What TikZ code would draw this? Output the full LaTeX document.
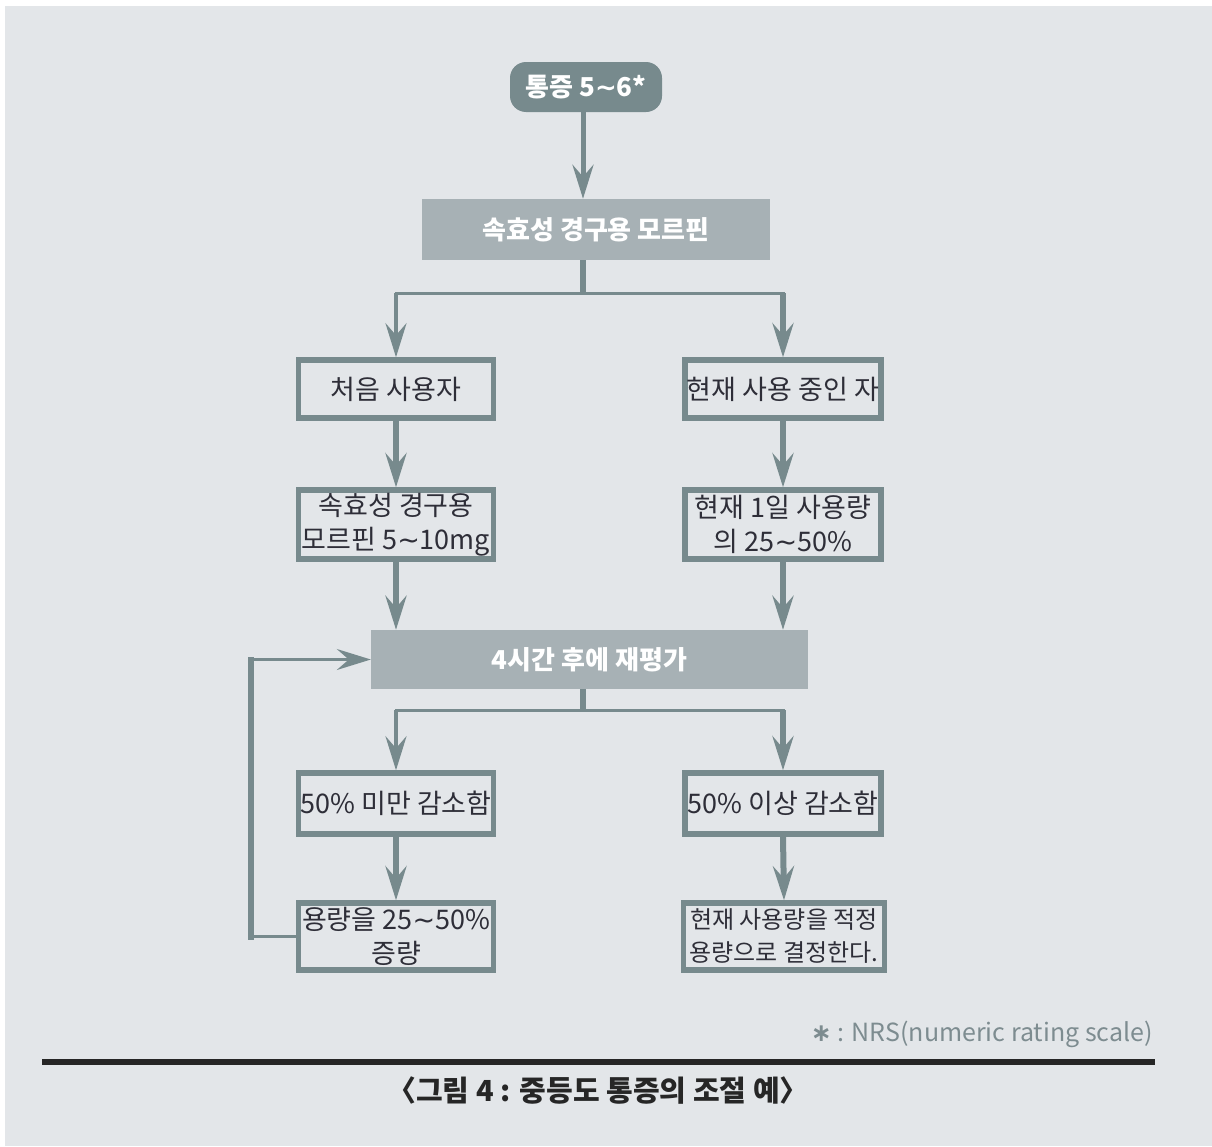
\documentclass[tikz,border=0pt]{standalone}
\usepackage{fontspec}
\setmainfont{Noto Sans CJK KR}
\newfontfamily\dvfont{DejaVu Sans}
\usetikzlibrary{arrows.meta}
\definecolor{bg}{HTML}{E3E6E9}
\definecolor{dk}{HTML}{778A8D}
\definecolor{lt}{HTML}{A7B1B5}
\definecolor{txt}{HTML}{2E2E38}
\definecolor{fn}{HTML}{7D8C90}
\newcommand\mytilde{{\dvfont ∼}}
\begin{document}
\begin{tikzpicture}[x=1pt,y=-1pt,
  ar/.style={-{Stealth[length=34pt,width=21pt,inset=12pt]}},
  ln/.style={draw=dk},
  box/.style={draw=dk, line width=5.5pt, fill=bg, text=txt, minimum width=195pt,
    minimum height=58pt, inner sep=0pt, align=center,
    font=\fontsize{27pt}{34pt}\selectfont},
  solid box/.style={fill=lt, text=white, inner sep=0pt, align=center,
    font=\bfseries\fontsize{26pt}{30pt}\selectfont}]
\useasboundingbox (0,0) rectangle (1212,1146);
\fill[white] (0,0) rectangle (1212,1146);
\fill[bg] (5,6) rectangle (1212,1146);

% nodes
\node[fill=dk, rounded corners=16pt, minimum width=152pt, minimum height=50pt,
  inner sep=0pt, text=white, font=\bfseries\fontsize{26pt}{30pt}\selectfont] (top) at (586,87) {통증 5\mytilde 6*};
\node[solid box, minimum width=348pt, minimum height=61pt] (s1) at (596,229.5) {속효성 경구용 모르핀};
\node[box] (b1) at (396,389) {처음 사용자};
\node[box, minimum width=196pt] (b2) at (783,389) {현재 사용 중인 자};
\node[box, minimum height=69pt] (b3) at (396,524.5) {속효성 경구용\\모르핀 5\mytilde 10mg};
\node[box, minimum width=196pt, minimum height=69pt] (b4) at (783,524.5) {현재 1일 사용량\\의 25\mytilde 50\%};
\node[solid box, minimum width=437pt, minimum height=59pt] (s2) at (589.5,659.5) {4시간 후에 재평가};
\node[box, minimum height=61pt] (b5) at (396,803.5) {50\% 미만 감소함};
\node[box, minimum width=196pt, minimum height=61pt] (b6) at (783,803.5) {50\% 이상 감소함};
\node[box, minimum height=67pt] (b7) at (396,936.5) {용량을 25\mytilde 50\%\\증량};
\node[box, minimum width=201pt, minimum height=67pt, font=\fontsize{24pt}{33pt}\selectfont] (b8) at (784,936.5) {현재 사용량을 적정\\용량으로 결정한다.};

\coordinate (j1) at (583,293);
\coordinate (j2) at (583,710);
\coordinate (lp) at (251,0);

% connectors
\draw[ln, line width=5pt, ar] (top.south -| j1) -- (s1.north -| j1);
\draw[ln, line width=6pt] (s1.south -| j1) -- (j1);
\draw[ln, line width=3pt, line cap=rect] (b1.north |- j1) -- (b2.north |- j1);
\draw[ln, line width=4pt, ar] (b1.north |- j1) -- (b1.north);
\draw[ln, line width=6pt, ar] (b2.north |- j1) -- (b2.north);
\draw[ln, line width=6pt, ar] (b1.south) -- (b3.north);
\draw[ln, line width=6pt, ar] (b2.south) -- (b4.north);
\draw[ln, line width=6pt, ar] (b3.south) -- (b3.south |- s2.north);
\draw[ln, line width=6pt, ar] (b4.south) -- (b4.south |- s2.north);

\draw[ln, line width=6pt] (s2.south -| j2) -- (j2);
\draw[ln, line width=3pt, line cap=rect] (b5.north |- j2) -- (b6.north |- j2);
\draw[ln, line width=4pt, ar] (b5.north |- j2) -- (b5.north);
\draw[ln, line width=6pt, ar] (b6.north |- j2) -- (b6.north);
\draw[ln, line width=6pt, ar] (b5.south) -- (b7.north);
\draw[ln, line width=6pt, ar] (b6.south) -- (b8.north);

\draw[ln, line width=2.5pt] (b7.west) -- (b7.west -| lp);
\draw[ln, line width=6pt, line cap=rect] (b7.west -| lp) -- (lp |- s2.west);
\draw[ln, line width=2.5pt, ar] (lp |- s2.west) -- (s2.west);

% footnote, rule, caption
\node[anchor=east, text=fn, inner sep=0pt, font=\fontsize{25pt}{28pt}\selectfont] (fnote) at (1153,1034) {{\dvfont\bfseries ∗} : NRS(numeric rating scale)};
\coordinate (r1) at (42,1062);
\coordinate (r2) at (1155,1062);
\draw[line width=5.5pt, black!85] (r1) -- (r2);
\node[text=black!85, inner sep=0pt, font=\bfseries\fontsize{29pt}{32pt}\selectfont] (cap) at (598,1090) {〈그림 4 : 중등도 통증의 조절 예〉};
\end{tikzpicture}
\end{document}
